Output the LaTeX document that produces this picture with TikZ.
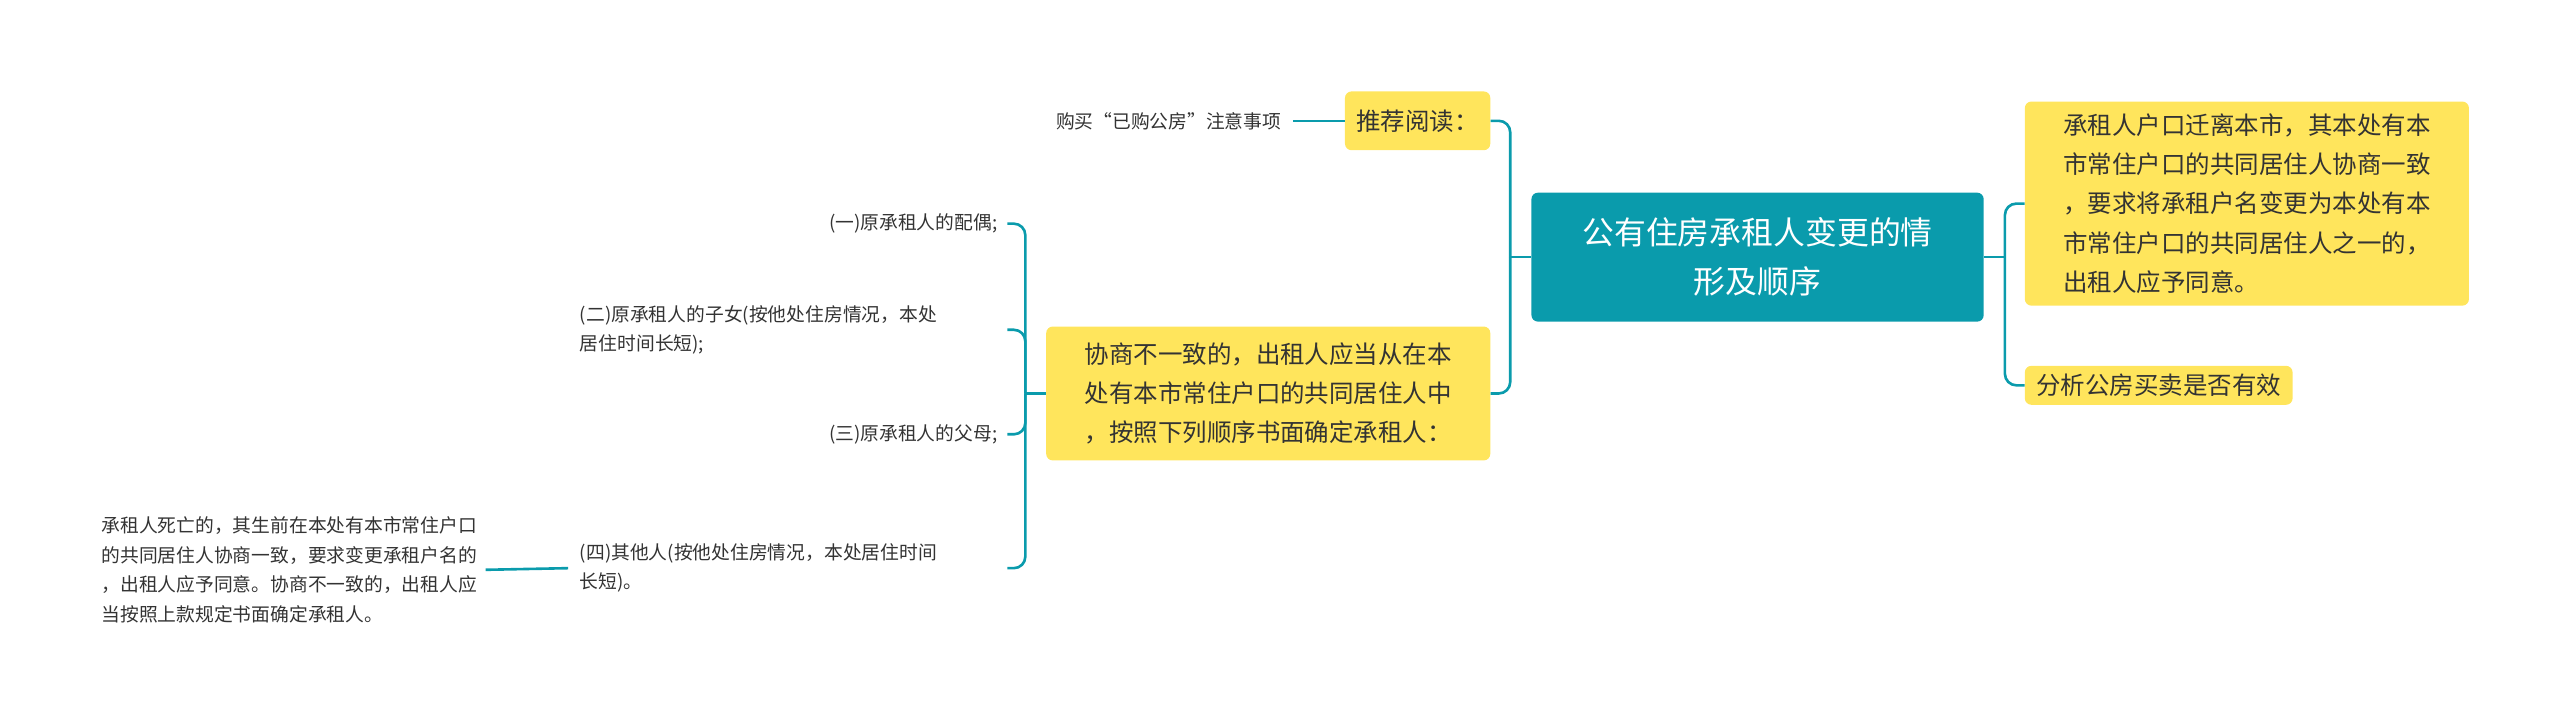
\documentclass[tikz,border=0pt]{standalone}
\usepackage{fontspec}
\setmainfont{Noto Sans CJK SC}
\definecolor{teal1}{HTML}{0A9BAC}
\definecolor{yel}{HTML}{FFE55C}
\definecolor{txt}{HTML}{333333}
\begin{document}
\begin{tikzpicture}[x=1pt,y=1pt,
 yb/.style={fill=yel,rounded corners=4,inner xsep=7,inner ysep=5,align=left,text=txt,font=\fontsize{15}{24}\selectfont},
 leaf/.style={inner sep=0,align=left,text=txt,font=\fontsize{11.5}{18}\selectfont},
 conn/.style={draw=teal1,line width=1.6,rounded corners=7}]
\useasboundingbox (0,0) rectangle (1568,-442);
\node[fill=teal1,rounded corners=4,text=white,align=center,minimum width=277,minimum height=79,font=\fontsize{19.5}{30}\selectfont] (c) at (1076.5,-157.5) {公有住房承租人变更的情\\形及顺序};
\node[yb,minimum width=272,minimum height=125,anchor=north west] (r1) at (1240,-62) {承租人户口迁离本市，其本处有本\\市常住户口的共同居住人协商一致\\，要求将承租户名变更为本处有本\\市常住户口的共同居住人之一的，\\出租人应予同意。};
\node[yb,anchor=west] (r2) at (1240,-236) {分析公房买卖是否有效};
\node[yb,anchor=east,minimum height=36] (l1) at (913,-74) {推荐阅读：};
\node[yb,minimum width=272,minimum height=82,anchor=east] (l2) at (913,-241) {协商不一致的，出租人应当从在本\\处有本市常住户口的共同居住人中\\，按照下列顺序书面确定承租人：};
\node[leaf,anchor=east] (k0) at (785,-74) {购买“已购公房”注意事项};
\node[leaf,anchor=east] (k1) at (611,-137) {(一)原承租人的配偶;};
\node[leaf,anchor=west] (k2) at (355,-202) {(二)原承租人的子女(按他处住房情况，本处\\居住时间长短);};
\node[leaf,anchor=east] (k3) at (611,-266) {(三)原承租人的父母;};
\node[leaf,anchor=west] (k4) at (355,-348) {(四)其他人(按他处住房情况，本处居住时间\\长短)。};
\node[leaf,anchor=west] (m) at (62,-349) {承租人死亡的，其生前在本处有本市常住户口\\的共同居住人协商一致，要求变更承租户名的\\，出租人应予同意。协商不一致的，出租人应\\当按照上款规定书面确定承租人。};
\coordinate (jl) at (925,-157.5);
\coordinate (jr) at (1228,-157.5);
\coordinate (jk) at (628,-241);
\coordinate (e1) at (617,-137);
\coordinate (e2) at (617,-202);
\coordinate (e3) at (617,-266);
\coordinate (e4) at (617,-348);
\draw[conn] (c.west)--(jl);
\draw[conn] (jl) |- (l1.east);
\draw[conn] (jl) |- (l2.east);
\draw[conn] (c.east)--(jr);
\draw[conn] (jr) |- (r1.west);
\draw[conn] (jr) |- (r2.west);
\draw[conn] (l1.west) -- ([xshift=7]k0.east);
\draw[conn] (l2.west)--(jk);
\draw[conn] (jk) |- (e1);
\draw[conn] (jk) |- (e2);
\draw[conn] (jk) |- (e3);
\draw[conn] (jk) |- (e4);
\draw[conn] ([xshift=-7]k4.west) -- ([xshift=5]m.east);
\end{tikzpicture}
\end{document}
